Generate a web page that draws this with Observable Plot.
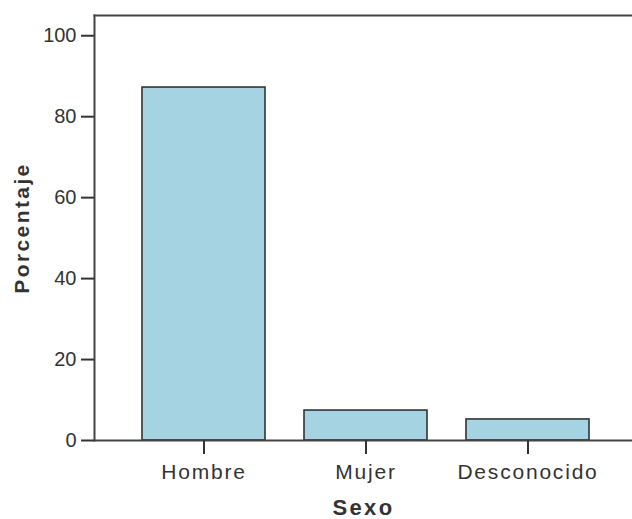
<!DOCTYPE html>
<html>
<head>
<meta charset="utf-8">
<script src="https://cdn.jsdelivr.net/npm/d3@7"></script>
<script src="https://cdn.jsdelivr.net/npm/@observablehq/plot@0.6"></script>
<style>
  html, body { margin: 0; padding: 0; background: white; }
  #chart svg g[aria-label="x-axis tick label"] text { letter-spacing: 1.8px; }
  #chart svg g[aria-label="x-axis label"] text { font-weight: bold; font-size: 22px; letter-spacing: 2.4px; }
  #chart svg g[aria-label="y-axis label"] text { font-weight: bold; font-size: 21px; letter-spacing: 2.4px; }
</style>
</head>
<body>
<div id="chart"></div>
<script>
const categories = ["Hombre", "Mujer", "Desconocido"];
const percentages = [87.2, 7.4, 5.2];
const yTicks = [0, 20, 40, 60, 80, 100];
const xLabel = "Sexo";
const yLabel = "Porcentaje";

const data = categories.map((c, i) => ({sexo: c, pct: percentages[i]}));

const chart = Plot.plot({
  width: 632,
  height: 519,
  marginTop: 15,
  marginBottom: 79,
  marginLeft: 94,
  marginRight: 0,
  style: {fontFamily: "'Liberation Sans', Arial, sans-serif", color: "#333", background: "white"},
  x: {domain: categories, range: [101.5, 628.5], padding: 0.243},
  y: {domain: [0, 105]},
  marks: [
    Plot.barY(data, {x: "sexo", y: "pct", fill: "#a6d3e2", stroke: "#333", strokeWidth: 1.6}),
    Plot.frame({anchor: "left", stroke: "#444", strokeWidth: 2}),
    Plot.frame({anchor: "top", stroke: "#444", strokeWidth: 2}),
    Plot.ruleY([0], {stroke: "#444", strokeWidth: 2}),
    Plot.axisX({tickSize: 14, tickPadding: 10, fontSize: 21, strokeWidth: 2, label: xLabel, labelAnchor: "center", labelOffset: 74, labelArrow: "none"}),
    Plot.axisY({ticks: yTicks, tickSize: 13, tickPadding: 5, fontSize: 20, strokeWidth: 2, label: yLabel, labelAnchor: "center", labelOffset: 80, labelArrow: "none"})
  ]
});
document.getElementById("chart").appendChild(chart);
</script>
</body>
</html>
